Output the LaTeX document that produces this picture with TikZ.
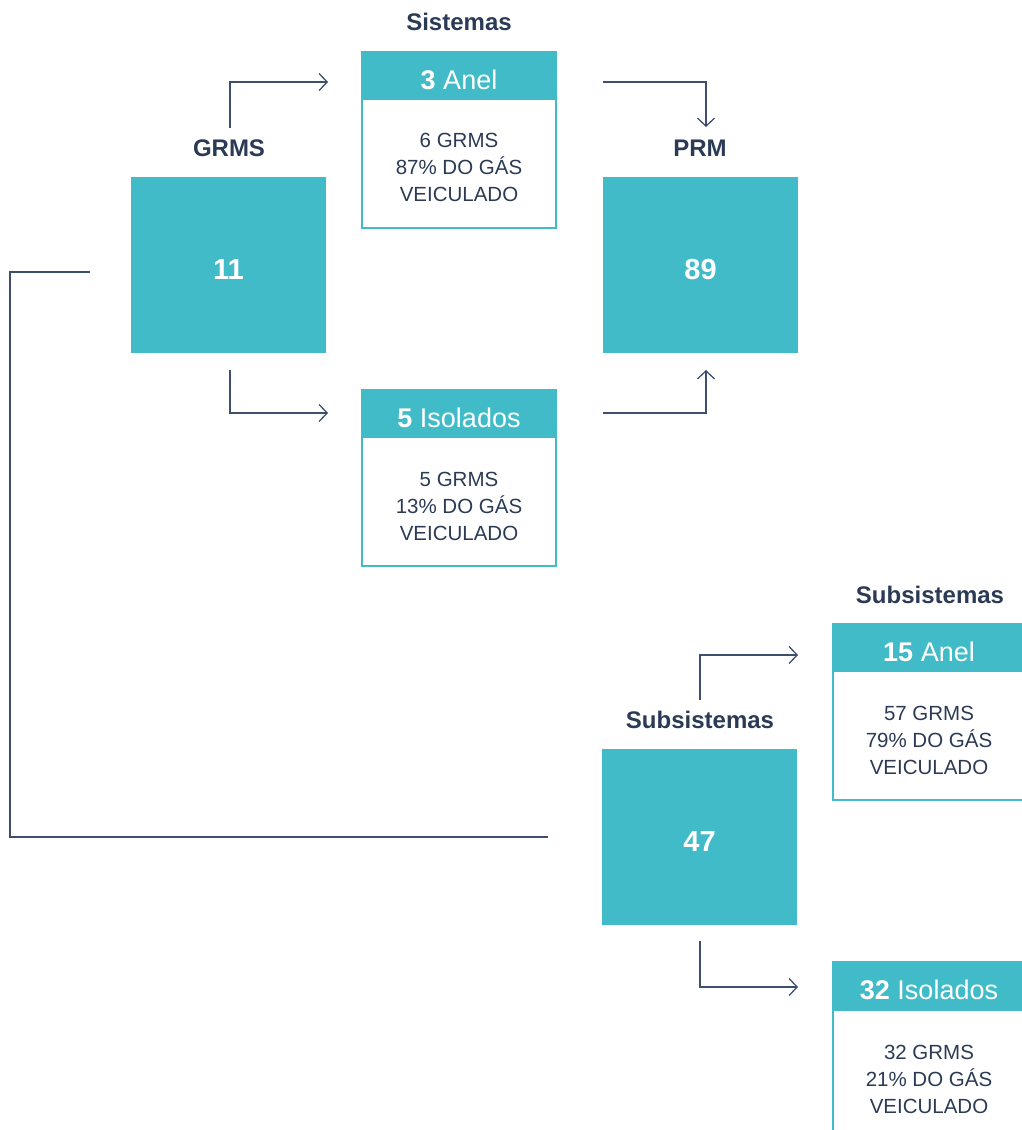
\documentclass[tikz,border=0pt]{standalone}
\usepackage{fontspec}
\setmainfont{Liberation Sans}
\usetikzlibrary{arrows.meta}
\definecolor{teal}{HTML}{42BBC8}
\definecolor{navy}{HTML}{2B3A55}
\definecolor{linec}{HTML}{3E4F6E}
\tikzset{
  bigbox/.style={fill=teal, minimum width=195pt, minimum height=176pt, inner sep=0pt, text=white},
  bignum/.style={text=white, inner sep=0pt, font=\fontsize{29}{32}\selectfont\bfseries},
  toplabel/.style={text=navy, font=\fontsize{24}{26}\selectfont\bfseries, inner sep=0pt},
  cardframe/.style={draw=teal, line width=1.6pt, fill=white},
  cardhead/.style={inner sep=0pt, text=white, font=\fontsize{27}{30}\selectfont},
  cardtext/.style={text=navy, font=\fontsize{20.5}{27}\selectfont, align=center, inner sep=0pt},
  conn/.style={draw=linec, line width=1.3pt},
  arr/.style={conn, -{Straight Barb[length=8pt,width=17pt,line width=1.3pt]}}
}
\begin{document}
\begin{tikzpicture}[x=1pt,y=-1pt]
\useasboundingbox (0,0) rectangle (1022,1130);
\clip (0,0) rectangle (1022,1130);

% big boxes
\node[bigbox] (grms) at (228.5,265) {};
\node[bignum] (grmsn) at (grms.center) [yshift=-5pt] {11};
\node[toplabel] (grmsl) at (229,148) {GRMS};
\node[bigbox] (prm) at (700.5,265) {};
\node[bignum] (prmn) at (prm.center) [yshift=-5pt] {89};
\node[toplabel] (prml) at (700,148) {PRM};
\node[bigbox] (sub) at (699.5,837) {};
\node[bignum] (subn) at (sub.center) [yshift=-5pt] {47};
\node[toplabel] (subl) at (700,720) {Subsistemas};

\node[toplabel] (sisl) at (459,22) {Sistemas};
\node[toplabel] (subsl) at (930,595) {Subsistemas};

% card: 3 Anel
\draw[cardframe] (362,52) rectangle (556,228);
\fill[teal] (362,52) rectangle (556,100);
\node[cardhead] (anelh) at (459,80) {\textbf{3} Anel};
\node[cardtext] (anelt) at (459,167) {6 GRMS\\87\% DO GÁS\\VEICULADO};

% card: 5 Isolados
\draw[cardframe] (362,390) rectangle (556,566);
\fill[teal] (362,390) rectangle (556,438);
\node[cardhead] (isoh) at (459,418) {\textbf{5} Isolados};
\node[cardtext] (isot) at (459,506) {5 GRMS\\13\% DO GÁS\\VEICULADO};

% card: 15 Anel
\draw[cardframe] (833,624) rectangle (1040,800);
\fill[teal] (833,624) rectangle (1040,672);
\node[cardhead] (sanelh) at (929,652) {\textbf{15} Anel};
\node[cardtext] (sanelt) at (929,740) {57 GRMS\\79\% DO GÁS\\VEICULADO};

% card: 32 Isolados
\draw[cardframe] (833,962) rectangle (1040,1160);
\fill[teal] (833,962) rectangle (1040,1011);
\node[cardhead] (sisoh) at (929,990) {\textbf{32} Isolados};
\node[cardtext] (sisot) at (929,1079) {32 GRMS\\21\% DO GÁS\\VEICULADO};

% connector end points
\coordinate (c1a) at (230,128);
\coordinate (c1b) at (328,82);
\coordinate (c2a) at (603,82);
\coordinate (c2b) at (706,127);
\coordinate (c3a) at (230,370);
\coordinate (c3b) at (328,413);
\coordinate (c4a) at (603,413);
\coordinate (c4b) at (706,370);
\coordinate (c5a) at (90,272);
\coordinate (c5b) at (548,837);
\coordinate (c6a) at (700,700);
\coordinate (c6b) at (798,655);
\coordinate (c7a) at (700,941);
\coordinate (c7b) at (798,987);

\draw[arr] (c1a) |- (c1b);
\draw[arr] (c2a) -| (c2b);
\draw[arr] (c3a) |- (c3b);
\draw[arr] (c4a) -| (c4b);
\draw[conn] (c5a) -- (10,272) -- (10,837) -- (c5b);
\draw[arr] (c6a) |- (c6b);
\draw[arr] (c7a) |- (c7b);
\end{tikzpicture}
\end{document}
